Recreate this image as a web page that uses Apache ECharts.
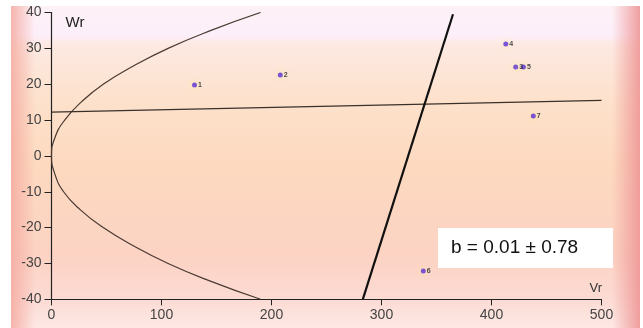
<!DOCTYPE html>
<html>
<head>
<meta charset="utf-8">
<title>Vr - Wr</title>
<script src="https://cdn.jsdelivr.net/npm/echarts@6/dist/echarts.min.js"></script>
<style>
html,body{margin:0;padding:0;background:#fff;}
#main{width:643px;height:328px;}
</style>
</head>
<body>
<div id="main"></div>
<script>
// points (Vr, Wr)
var pointNames = ['1', '2', '3', '4', '5', '6', '7'];
var pointVr = [130, 208, 422, 413, 429, 338, 438];
var pointWr = [19.8, 22.6, 24.8, 31.2, 24.8, -32.1, 11.1];
// parabola
var curveWr = [-40, -35, -30, -25, -20, -15, -10, -5, 0, 5, 10, 15, 20, 25, 30, 35, 40];
var curveVr = [190, 145, 106, 74, 47, 26, 11, 3, 0, 3, 12, 27, 47, 74, 106, 145, 190];
// thin fit line / thick line
var thinVr = [0, 500];
var thinWr = [12.2, 15.5];
var thickVr = [283, 365];
var thickWr = [-40, 39.5];
var noteText = 'b = 0.01 ± 0.78';

function pairs(xs, ys) {
    var out = [];
    for (var i = 0; i < xs.length; i++) out.push([xs[i], ys[i]]);
    return out;
}

var myChart = echarts.init(document.getElementById('main'));

var pts = [];
for (var i = 0; i < pointNames.length; i++) {
    pts.push({ name: pointNames[i], value: [pointVr[i], pointWr[i]] });
}

var labelFont = 'Liberation Sans, Arial, sans-serif';

var option = {
    animation: false,
    textStyle: { fontFamily: labelFont },
    grid: { left: 51.5, right: 41.5, top: 12.5, bottom: 28.7 },
    graphic: [
        {
            type: 'rect', z: -10, silent: true,
            shape: { x: 11, y: 6, width: 629, height: 322 },
            style: {
                fill: new echarts.graphic.LinearGradient(0, 0, 0, 1, [
                    { offset: 0, color: '#fdf1f6' },
                    { offset: 0.09, color: '#fdeffa' },
                    { offset: 0.12, color: '#fde9e2' },
                    { offset: 0.3, color: '#fde1cb' },
                    { offset: 0.5, color: '#fdd9bf' },
                    { offset: 0.78, color: '#fcd3c4' },
                    { offset: 0.9, color: '#fcdad2' },
                    { offset: 1, color: '#fde8e4' }
                ])
            }
        },
        {
            type: 'rect', z: -9, silent: true,
            shape: { x: 11, y: 6, width: 24, height: 322 },
            style: {
                fill: new echarts.graphic.LinearGradient(0, 0, 1, 0, [
                    { offset: 0, color: 'rgba(244,170,160,0.85)' },
                    { offset: 1, color: 'rgba(244,170,160,0)' }
                ])
            }
        },
        {
            type: 'rect', z: -9, silent: true,
            shape: { x: 612, y: 6, width: 28, height: 322 },
            style: {
                fill: new echarts.graphic.LinearGradient(0, 0, 1, 0, [
                    { offset: 0, color: 'rgba(238,150,150,0)' },
                    { offset: 1, color: 'rgba(238,150,150,0.9)' }
                ])
            }
        },
        {
            type: 'group', z: 100, left: 438, top: 228,
            children: [
                {
                    type: 'rect',
                    shape: { x: 0, y: 0, width: 175, height: 40 },
                    style: { fill: '#ffffff' }
                },
                {
                    type: 'text', x: 13, y: 20,
                    style: {
                        text: noteText, fill: '#111', font: '19px ' + labelFont,
                        verticalAlign: 'middle'
                    }
                }
            ]
        }
    ],
    xAxis: {
        type: 'value', min: 0, max: 500, interval: 100,
        name: 'Vr', nameLocation: 'end', nameGap: -12,
        nameTextStyle: { color: '#333', fontSize: 13, align: 'left', verticalAlign: 'bottom', padding: [0, 0, 4, 0] },
        axisLine: { show: true, onZero: false, lineStyle: { color: '#222', width: 1.2 } },
        axisTick: { show: true, inside: false, length: 6, lineStyle: { color: '#222' } },
        axisLabel: { color: '#444', fontSize: 14, margin: 9 },
        splitLine: { show: false }
    },
    yAxis: {
        type: 'value', min: -40, max: 40, interval: 10,
        name: 'Wr', nameLocation: 'end', nameGap: -18,
        nameTextStyle: { color: '#222', fontSize: 15, align: 'left', verticalAlign: 'bottom', padding: [0, 0, 0, 14] },
        axisLine: { show: true, onZero: false, lineStyle: { color: '#222', width: 1.2 } },
        axisTick: { show: true, inside: false, length: 7, lineStyle: { color: '#222' } },
        axisLabel: { color: '#444', fontSize: 14, margin: 10 },
        splitLine: { show: false }
    },
    series: [
        {
            name: 'curve', type: 'line', smooth: true, symbol: 'none',
            data: pairs(curveVr, curveWr),
            lineStyle: { color: '#4a3a32', width: 1.2 }
        },
        {
            name: 'thin', type: 'line', symbol: 'none',
            data: pairs(thinVr, thinWr),
            lineStyle: { color: '#3a302a', width: 1.3 }
        },
        {
            name: 'thick', type: 'line', symbol: 'none',
            data: pairs(thickVr, thickWr),
            lineStyle: { color: '#111', width: 2.2 }
        },
        {
            name: 'points', type: 'scatter', symbol: 'circle', symbolSize: 5,
            data: pts,
            itemStyle: { color: '#5a2fd6', shadowBlur: 6, shadowColor: 'rgba(255,235,120,0.9)' },
            label: {
                show: true, position: 'right', distance: 1,
                formatter: '{b}', fontSize: 7, fontWeight: 'bold', color: '#222'
            },
            z: 5
        }
    ]
};

myChart.setOption(option);
</script>
</body>
</html>
